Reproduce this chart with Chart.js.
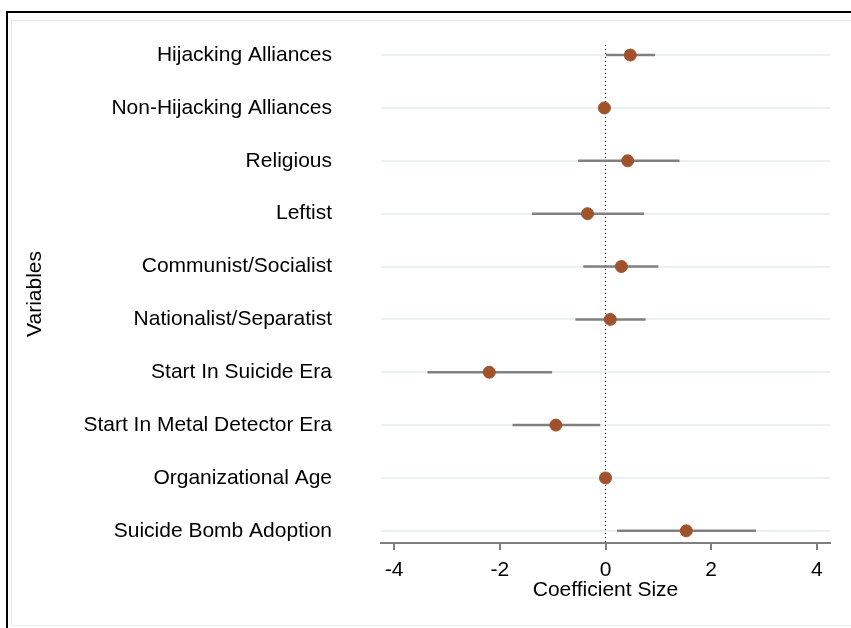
<!DOCTYPE html>
<html>
<head>
<meta charset="utf-8">
<script src="https://cdn.jsdelivr.net/npm/chart.js@4.4.1/dist/chart.umd.min.js"></script>
<style>
  html, body { margin: 0; padding: 0; background: #fff; }
  #outer { position: absolute; left: 6px; top: 11px; width: 860px; height: 640px; border-left: 2px solid #000; border-top: 2px solid #000; }
  #inner { position: absolute; left: 11px; top: 20px; width: 860px; height: 604px; border: 1px solid #e4edf0; }
  #chart { position: absolute; left: 0; top: 0; }
</style>
</head>
<body>
<div id="outer"></div>
<div id="inner"></div>
<canvas id="chart" width="851" height="628"></canvas>
<script>
const variables = [
    'Hijacking Alliances',
    'Non-Hijacking Alliances',
    'Religious',
    'Leftist',
    'Communist/Socialist',
    'Nationalist/Separatist',
    'Start In Suicide Era',
    'Start In Metal Detector Era',
    'Organizational Age',
    'Suicide Bomb Adoption'
];
const coef    = [0.47, -0.02, 0.42, -0.34, 0.30, 0.09, -2.20, -0.94, 0.00, 1.53];
const ciLow   = [0.01, -0.03, -0.52, -1.39, -0.42, -0.57, -3.37, -1.76, -0.01, 0.22];
const ciHigh  = [0.94, -0.01, 1.40, 0.73, 1.00, 0.76, -1.01, -0.10, 0.01, 2.85];
const xTicks  = [-4, -2, 0, 2, 4];

const yMin = -0.19;
const yMax = 9.23;

const pointData = coef.map((v, i) => ({ x: v, y: i }));

// one segment per row, broken by a gap
const ciData = [];
variables.forEach((_, i) => {
    ciData.push({ x: ciLow[i], y: i });
    ciData.push({ x: ciHigh[i], y: i });
    ciData.push({ x: null, y: i });
});

const zeroLine = [{ x: 0, y: yMin }, { x: 0, y: yMax }];

const font = { family: '"Liberation Sans", Arial, sans-serif', size: 21 };

new Chart(document.getElementById('chart'), {
    type: 'scatter',
    data: {
        datasets: [
            {
                data: pointData,
                backgroundColor: '#a0522d',
                borderColor: '#a0522d',
                pointRadius: 6,
                order: 0
            },
            {
                data: ciData,
                showLine: true,
                spanGaps: false,
                borderColor: '#808080',
                borderWidth: 2.5,
                pointRadius: 0,
                order: 1
            },
            {
                data: zeroLine,
                showLine: true,
                borderColor: '#000',
                borderWidth: 1,
                borderDash: [1, 3],
                pointRadius: 0,
                order: 2
            }
        ]
    },
    options: {
        responsive: false,
        animation: false,
        layout: { padding: { left: 23, top: 45, right: 21, bottom: 15 } },
        plugins: { legend: { display: false }, tooltip: { enabled: false } },
        scales: {
            x: {
                type: 'linear',
                min: -4.25,
                max: 4.25,
                afterBuildTicks: axis => { axis.ticks = xTicks.map(v => ({ value: v })); },
                afterFit: axis => { axis.height = 70; },
                grid: { drawOnChartArea: false, drawTicks: true, tickLength: 7, color: '#808080', lineWidth: 2 },
                border: { display: true, color: '#808080', width: 2 },
                ticks: { font: font, color: '#000', padding: 8 },
                title: { display: true, text: 'Coefficient Size', font: font, color: '#000', padding: { top: 0, bottom: 10 } }
            },
            y: {
                type: 'linear',
                reverse: true,
                min: yMin,
                max: yMax,
                afterBuildTicks: axis => { axis.ticks = variables.map((_, i) => ({ value: i })); },
                afterFit: axis => { axis.width = 358; },
                // invisible tick marks provide the gap between labels and plot
                grid: { drawTicks: true, tickLength: 49, tickColor: 'rgba(0,0,0,0)', color: '#eaf1f3', lineWidth: 2 },
                border: { display: false },
                ticks: { font: font, color: '#000', padding: 0, callback: v => variables[v] },
                title: { display: true, text: 'Variables', font: font, color: '#000', padding: 0 }
            }
        }
    }
});
</script>
</body>
</html>
